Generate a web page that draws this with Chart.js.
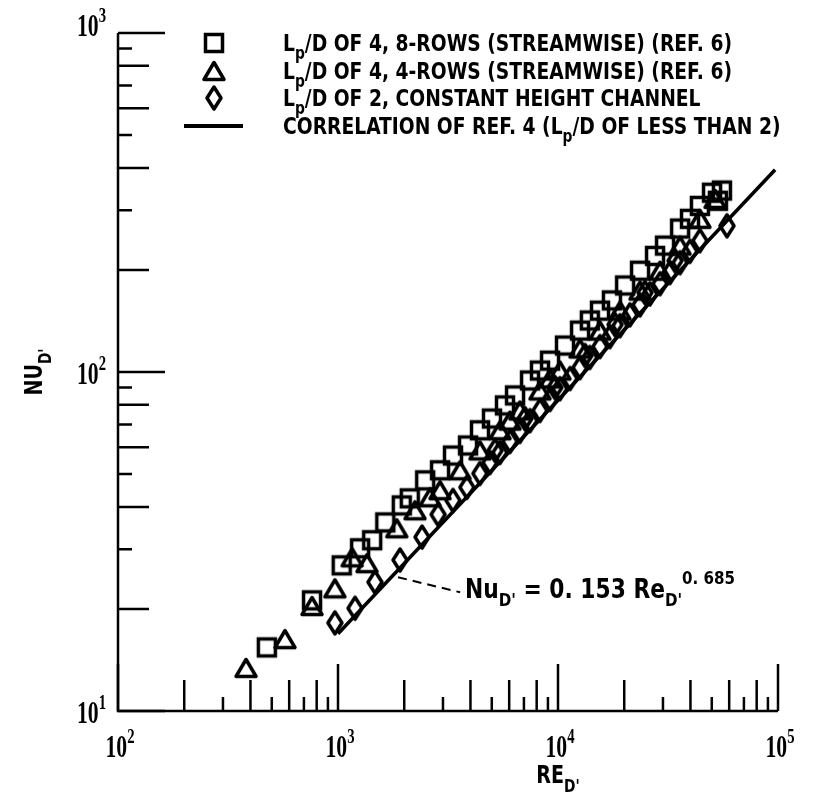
<!DOCTYPE html>
<html>
<head>
<meta charset="utf-8">
<script src="https://cdn.jsdelivr.net/npm/chart.js@4.4.1/dist/chart.umd.min.js"></script>
<style>
  html, body { margin: 0; padding: 0; background: #fff; }
  #wrap { width: 833px; height: 802px; position: relative; }
</style>
</head>
<body>
<div id="wrap"><canvas id="chart"></canvas></div>
<script>
// ===== DATA =====
// Lp/D of 4, 8 rows (squares)
var squareRe = [475, 762, 1040, 1260, 1430, 1640, 1950, 2120, 2490, 2910, 3330, 3900, 4420, 5010, 5740, 6380, 7460, 8280, 9200, 10760, 12590, 13960, 15520, 17580, 20180, 23600, 27610, 30650, 35890, 39810, 44160, 50120, 53300, 55590];
var squareNu = [15.4, 21.2, 26.9, 30.2, 31.9, 36.0, 40.4, 42.4, 47.9, 51.3, 56.7, 60.7, 67.3, 72.9, 79.7, 85.3, 94.4, 101, 108, 119.7, 132.5, 141.9, 151.7, 162.6, 180, 199, 220, 236, 265, 283, 309, 338, 320, 343];

// Lp/D of 4, 4 rows (triangles)
var triangleRe = [382, 574, 762, 968, 1160, 1355, 1850, 2240, 2620, 2910, 3590, 4420, 5450, 6050, 6710, 8280, 9200, 10210, 12590, 15520, 19140, 23600, 29090, 35890, 44160, 51760];
var triangleNu = [13.4, 16.3, 20.4, 23.0, 28.4, 27.3, 34.6, 39.1, 42.7, 44.8, 51.3, 58.7, 67.3, 71.9, 77.0, 88.2, 95.7, 101, 117.3, 132.5, 151.7, 173.8, 199, 236, 283, 324];

// Lp/D of 2, constant height channel (diamonds)
var diamondRe = [968, 1195, 1472, 1914, 2410, 2850, 3330, 3855, 4416, 4909, 5176, 5445, 6053, 6714, 7079, 7464, 8279, 9204, 9683, 10210, 11350, 12590, 13270, 13960, 15520, 17220, 18170, 19140, 21240, 23600, 24850, 26180, 29090, 32280, 34040, 35890, 39810, 44160, 58620];
var diamondNu = [18.2, 20.1, 24.0, 27.9, 32.6, 38.0, 41.8, 45.7, 50.2, 54.1, 58.7, 57.9, 62.4, 66.8, 72.9, 71.9, 77.0, 83.0, 90.0, 89.3, 95.7, 103.1, 111.9, 110.4, 118.9, 127.2, 138, 137, 147.5, 157.8, 171.5, 170, 182.2, 196.5, 213, 210.2, 227, 244, 270];

// correlation of ref. 4 (end points of the drawn line)
var corrRe = [1000, 97000];
var corrNu = [16.9, 395];

// axis ticks
var xTickValues = [100, 200, 300, 400, 500, 600, 700, 800, 900, 1000, 2000, 3000, 4000, 5000, 6000, 7000, 8000, 9000, 10000, 20000, 30000, 40000, 50000, 60000, 70000, 80000, 90000, 100000];
var yTickValues = [10, 20, 30, 40, 50, 60, 70, 80, 90, 100, 200, 300, 400, 500, 600, 700, 800, 900, 1000];
var xDecades = [100, 1000, 10000, 100000];
var xDecadeExp = ['2', '3', '4', '5'];
var yDecades = [10, 100, 1000];
var yDecadeExp = ['1', '2', '3'];

var legendTexts = [
    "/D OF 4, 8-ROWS (STREAMWISE) (REF. 6)",
    "/D OF 4, 4-ROWS (STREAMWISE) (REF. 6)",
    "/D OF 2, CONSTANT HEIGHT CHANNEL"
];

// annotation anchor points (data coordinates)
var noteLeaderRe = [1875, 3590];
var noteLeaderNu = [24.8, 22.4];
var noteTextRe = 3780;
var noteTextNu = 21.5;

// ===== HELPERS =====
var SANS = '"Liberation Sans Narrow", "DejaVu Sans Condensed", "Liberation Sans", sans-serif';
var SERIF = '"Liberation Serif", "DejaVu Serif", serif';

function zip(xs, ys) {
    return xs.map(function (x, i) { return { x: x, y: ys[i] }; });
}

function makeMarker(kind) {
    var c = document.createElement('canvas');
    var g;
    if (kind === 'square') {
        c.width = 24; c.height = 24;
        g = c.getContext('2d');
        g.lineWidth = 3.5;
        g.strokeStyle = '#000';
        g.strokeRect(3.5, 3.5, 17, 17);
    } else if (kind === 'triangle') {
        c.width = 26; c.height = 24;
        g = c.getContext('2d');
        g.lineWidth = 3.5;
        g.strokeStyle = '#000';
        g.lineJoin = 'round';
        g.beginPath();
        g.moveTo(13, 3.5); g.lineTo(23, 20.5); g.lineTo(3, 20.5); g.closePath();
        g.stroke();
    } else {
        c.width = 20; c.height = 28;
        g = c.getContext('2d');
        g.lineWidth = 3.5;
        g.strokeStyle = '#000';
        g.lineJoin = 'round';
        g.beginPath();
        g.moveTo(10, 3); g.lineTo(17, 14); g.lineTo(10, 25); g.lineTo(3, 14); g.closePath();
        g.stroke();
    }
    return c;
}

var squareMark = makeMarker('square');
var triangleMark = makeMarker('triangle');
var diamondMark = makeMarker('diamond');

function runsWidth(ctx, runs) {
    var total = 0;
    runs.forEach(function (r) {
        ctx.font = r.font;
        r.w = ctx.measureText(r.t).width;
        total += r.w;
    });
    return total;
}

function drawRuns(ctx, runs, x, y, align, sx) {
    sx = sx || 1;
    var total = runsWidth(ctx, runs) * sx;
    var start = x;
    if (align === 'center') start = x - total / 2;
    if (align === 'right') start = x - total;
    ctx.save();
    ctx.translate(start, y);
    ctx.scale(sx, 1);
    ctx.textBaseline = 'alphabetic';
    ctx.textAlign = 'left';
    var cx = 0;
    runs.forEach(function (r) {
        ctx.font = r.font;
        ctx.fillText(r.t, cx, r.dy || 0);
        cx += r.w;
    });
    ctx.restore();
    return total;
}

function decadeRuns(exp) {
    return [
        { t: '10', font: 'bold 31px ' + SERIF },
        { t: exp, font: 'bold 21px ' + SERIF, dy: -14 }
    ];
}

function tickLength(v) {
    var m = Math.round(v / Math.pow(10, Math.floor(Math.log10(v) + 1e-9)));
    if (m === 1) return 47;
    return m % 2 === 0 ? 31 : 14;
}

function legendRuns(text) {
    return [
        { t: 'L', font: 'bold 23px ' + SANS },
        { t: 'p', font: 'bold 17px ' + SANS, dy: 8 },
        { t: text, font: 'bold 23px ' + SANS }
    ];
}

// ===== AXES, LABELS, LEGEND PLUGIN =====
var frame = {
    id: 'frame',
    beforeDatasetsDraw: function (chart) {
        var ctx = chart.ctx;
        var xs = chart.scales.x, ys = chart.scales.y;
        var area = chart.chartArea;
        ctx.save();
        ctx.strokeStyle = '#000';
        ctx.fillStyle = '#000';
        ctx.lineWidth = 2.5;
        ctx.lineCap = 'butt';

        // axis lines (left and bottom only)
        ctx.beginPath();
        ctx.moveTo(area.left, area.top);
        ctx.lineTo(area.left, area.bottom);
        ctx.lineTo(area.right, area.bottom);
        ctx.stroke();

        // inward ticks
        ctx.beginPath();
        yTickValues.forEach(function (v) {
            var py = ys.getPixelForValue(v);
            ctx.moveTo(area.left, py);
            ctx.lineTo(area.left + tickLength(v), py);
        });
        xTickValues.forEach(function (v) {
            var px = xs.getPixelForValue(v);
            ctx.moveTo(px, area.bottom);
            ctx.lineTo(px, area.bottom - tickLength(v));
        });
        ctx.stroke();

        // decade labels
        xDecades.forEach(function (v, i) {
            drawRuns(ctx, decadeRuns(xDecadeExp[i]), xs.getPixelForValue(v) + 2, area.bottom + 46, 'center', 0.7);
        });
        yDecades.forEach(function (v, i) {
            var off = i === yDecades.length - 1 ? 3 : 12;
            drawRuns(ctx, decadeRuns(yDecadeExp[i]), area.left - 12, ys.getPixelForValue(v) + off, 'right', 0.7);
        });

        // axis titles
        drawRuns(ctx, [
            { t: 'RE', font: 'bold 25px ' + SANS },
            { t: "D'", font: 'bold 18px ' + SANS, dy: 9 }
        ], (xs.getPixelForValue(1000) + xs.getPixelForValue(100000)) / 2, area.bottom + 72, 'center', 0.85);

        ctx.save();
        ctx.translate(42, ys.getPixelForValue(100));
        ctx.rotate(-Math.PI / 2);
        drawRuns(ctx, [
            { t: 'NU', font: 'bold 25px ' + SANS },
            { t: "D'", font: 'bold 18px ' + SANS, dy: 9 }
        ], 0, 0, 'center', 0.85);
        ctx.restore();

        // legend
        var legX = 214, textX = 283, rowY = [43, 71, 98, 126];
        var marks = [squareMark, triangleMark, diamondMark];
        var sx = 449 / runsWidth(ctx, legendRuns(legendTexts[0]));
        marks.forEach(function (m, i) {
            ctx.drawImage(m, legX - m.width / 2, rowY[i] - m.height / 2);
            drawRuns(ctx, legendRuns(legendTexts[i]), textX, rowY[i] + 8, 'left', sx);
        });
        ctx.lineWidth = 4;
        ctx.beginPath();
        ctx.moveTo(184, rowY[3]);
        ctx.lineTo(243, rowY[3]);
        ctx.stroke();
        drawRuns(ctx, [
            { t: 'CORRELATION OF REF. 4 (L', font: 'bold 23px ' + SANS },
            { t: 'p', font: 'bold 17px ' + SANS, dy: 8 },
            { t: '/D OF LESS THAN 2)', font: 'bold 23px ' + SANS }
        ], textX, rowY[3] + 8, 'left', sx);

        // equation note with dashed leader
        ctx.lineWidth = 2;
        ctx.setLineDash([9, 6]);
        ctx.beginPath();
        ctx.moveTo(xs.getPixelForValue(noteLeaderRe[0]), ys.getPixelForValue(noteLeaderNu[0]));
        ctx.lineTo(xs.getPixelForValue(noteLeaderRe[1]), ys.getPixelForValue(noteLeaderNu[1]));
        ctx.stroke();
        ctx.setLineDash([]);
        var noteRuns = [
            { t: 'Nu', font: 'bold 26px ' + SANS },
            { t: "D'", font: 'bold 18px ' + SANS, dy: 8 },
            { t: ' = 0. 153 Re', font: 'bold 26px ' + SANS },
            { t: "D'", font: 'bold 18px ' + SANS, dy: 8 },
            { t: '0. 685', font: 'bold 18px ' + SANS, dy: -14 }
        ];
        var nx = xs.getPixelForValue(noteTextRe);
        var nsx = 270 / runsWidth(ctx, noteRuns);
        drawRuns(ctx, noteRuns, nx, ys.getPixelForValue(noteTextNu), 'left', nsx);

        ctx.restore();
    }
};

// ===== CHART =====
var ctxEl = document.getElementById('chart');
new Chart(ctxEl, {
    type: 'scatter',
    data: {
        datasets: [
            {
                type: 'line',
                label: 'Correlation of ref. 4',
                data: zip(corrRe, corrNu),
                borderColor: '#000',
                borderWidth: 3.5,
                pointRadius: 0,
                fill: false,
                tension: 0
            },
            {
                label: 'Lp/D of 2, constant height channel',
                data: zip(diamondRe, diamondNu),
                pointStyle: diamondMark,
                pointRadius: 9
            },
            {
                label: 'Lp/D of 4, 4-rows',
                data: zip(triangleRe, triangleNu),
                pointStyle: triangleMark,
                pointRadius: 9
            },
            {
                label: 'Lp/D of 4, 8-rows',
                data: zip(squareRe, squareNu),
                pointStyle: squareMark,
                pointRadius: 9
            }
        ]
    },
    options: {
        responsive: true,
        maintainAspectRatio: false,
        animation: false,
        events: [],
        layout: { padding: { left: 118, right: 55, top: 33, bottom: 91 } },
        scales: {
            x: { type: 'logarithmic', min: 100, max: 100000, display: false },
            y: { type: 'logarithmic', min: 10, max: 1000, display: false }
        },
        plugins: {
            legend: { display: false },
            tooltip: { enabled: false }
        }
    },
    plugins: [frame]
});
</script>
</body>
</html>
